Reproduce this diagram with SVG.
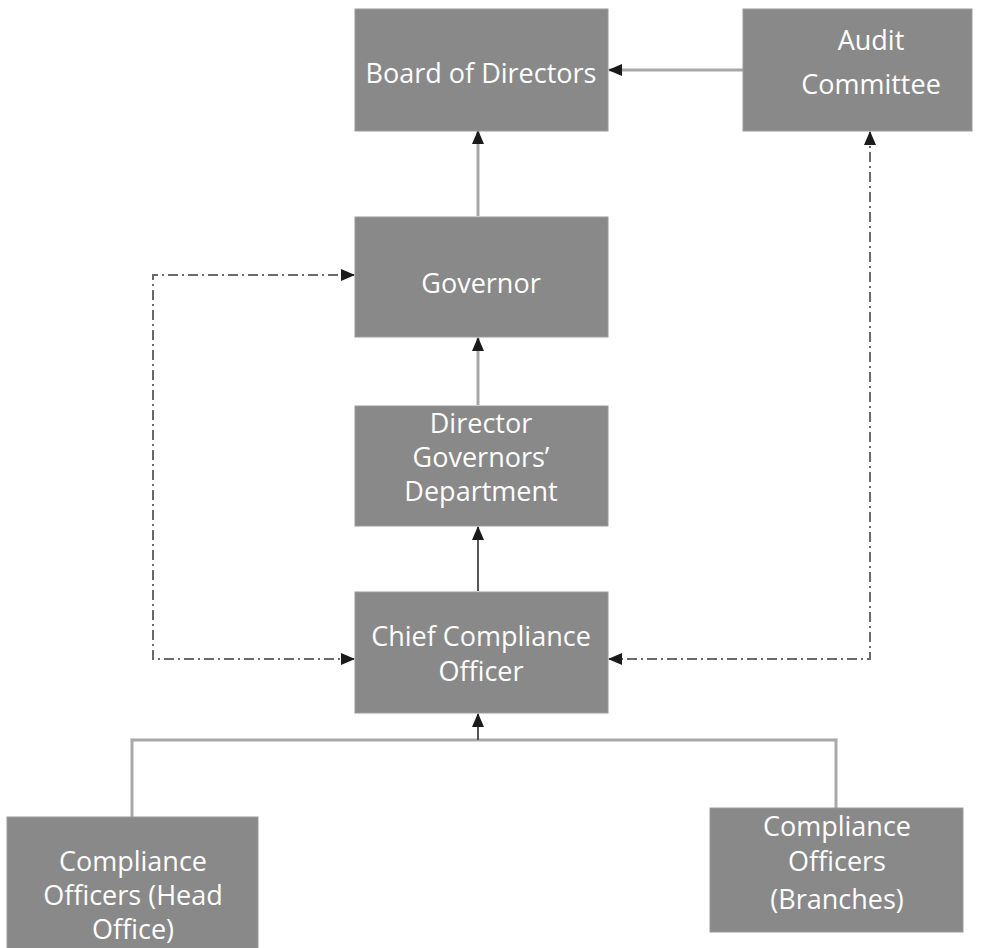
<svg xmlns="http://www.w3.org/2000/svg" width="988" height="948" viewBox="0 0 988 948">
<defs>
<marker id="ah" markerWidth="14" markerHeight="14" refX="13" refY="6" orient="auto-start-reverse" markerUnits="userSpaceOnUse" viewBox="0 0 14 12">
<path d="M0,0 L14,6 L0,12 z" fill="#1a1a1a"/>
</marker>
<style>
.box{fill:#898989;stroke:#9a9a9a;stroke-width:1}
.t{font-family:"Open Sans","Liberation Sans",sans-serif;font-size:27px;fill:#ffffff;text-anchor:middle}
.solid{fill:none;stroke:#a8a8a8;stroke-width:3}
.dark{fill:none;stroke:#555555;stroke-width:2}
.dd{fill:none;stroke:#6a6a6a;stroke-width:2;stroke-dasharray:10 4 2 4}
</style>
</defs>
<rect width="988" height="948" fill="#ffffff"/>
<g id="connectors">
<line class="solid" x1="743" y1="70" x2="609" y2="70" marker-end="url(#ah)"/>
<line class="solid" x1="478" y1="216" x2="478" y2="131" marker-end="url(#ah)"/>
<line class="solid" x1="478" y1="405" x2="478" y2="338" marker-end="url(#ah)"/>
<line class="dark" x1="478" y1="591" x2="478" y2="527" marker-end="url(#ah)"/>
<polyline class="dd" points="354,659 153,659 153,275 354,275" marker-start="url(#ah)" marker-end="url(#ah)"/>
<polyline class="dd" points="870,132 870,659 609,659" marker-start="url(#ah)" marker-end="url(#ah)"/>
<polyline class="solid" points="132,817 132,740 836,740 836,808"/>
<line class="dark" x1="478" y1="740" x2="478" y2="714" marker-end="url(#ah)"/>
</g>
<g id="board"><rect class="box" x="355" y="9" width="253" height="122"/><text class="t" x="481" y="83">Board of Directors</text></g>
<g id="audit"><rect class="box" x="743" y="9" width="229" height="122"/><text class="t" x="871" y="50">Audit</text><text class="t" x="871" y="94">Committee</text></g>
<g id="governor"><rect class="box" x="355" y="217" width="253" height="120"/><text class="t" x="481" y="293">Governor</text></g>
<g id="director"><rect class="box" x="355" y="406" width="253" height="120"/><text class="t" x="481" y="433">Director</text><text class="t" x="481" y="467">Governors’</text><text class="t" x="481" y="501">Department</text></g>
<g id="chief"><rect class="box" x="355" y="592" width="253" height="121"/><text class="t" x="481" y="646">Chief Compliance</text><text class="t" x="481" y="681">Officer</text></g>
<g id="ho"><rect class="box" x="7" y="817" width="251" height="140"/><text class="t" x="133" y="871">Compliance</text><text class="t" x="133" y="905">Officers (Head</text><text class="t" x="133" y="939">Office)</text></g>
<g id="branches"><rect class="box" x="710" y="808" width="253" height="124"/><text class="t" x="837" y="836">Compliance</text><text class="t" x="837" y="871">Officers</text><text class="t" x="837" y="909">(Branches)</text></g>
</svg>
